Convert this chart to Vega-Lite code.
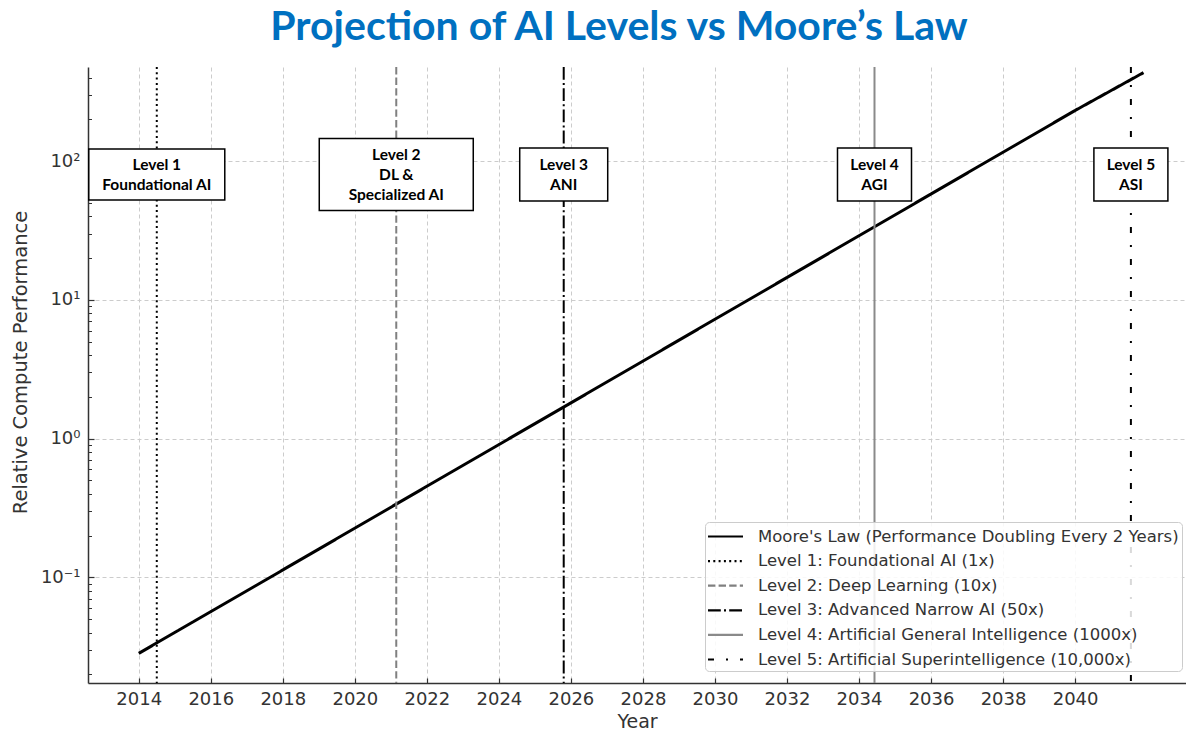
{
  "$schema": "https://vega.github.io/schema/vega-lite/v6.json",
  "width": 1098,
  "height": 616,
  "autosize": {"type": "none"},
  "padding": {"left": 88, "top": 67, "right": 0, "bottom": 49},
  "background": "white",
  "title": {
    "text": "Projection of AI Levels vs Moore’s Law",
    "font": "Lato",
    "fontSize": 41,
    "fontWeight": "bold",
    "color": "#0070C0",
    "anchor": "middle",
    "offset": 17,
    "dx": -18
  },
  "config": {"view": {"stroke": null}, "font": "DejaVu Sans"},
  "resolve": {"axis": {"y": "independent"}},
  "datasets": {
    "moore": [
      {"year": 2014, "value": 0.0283, "series": "Moore's Law (Performance Doubling Every 2 Years)"},
      {"year": 2016, "value": 0.0566, "series": "Moore's Law (Performance Doubling Every 2 Years)"},
      {"year": 2018, "value": 0.113, "series": "Moore's Law (Performance Doubling Every 2 Years)"},
      {"year": 2020, "value": 0.226, "series": "Moore's Law (Performance Doubling Every 2 Years)"},
      {"year": 2022, "value": 0.453, "series": "Moore's Law (Performance Doubling Every 2 Years)"},
      {"year": 2024, "value": 0.906, "series": "Moore's Law (Performance Doubling Every 2 Years)"},
      {"year": 2026, "value": 1.81, "series": "Moore's Law (Performance Doubling Every 2 Years)"},
      {"year": 2028, "value": 3.62, "series": "Moore's Law (Performance Doubling Every 2 Years)"},
      {"year": 2030, "value": 7.25, "series": "Moore's Law (Performance Doubling Every 2 Years)"},
      {"year": 2032, "value": 14.5, "series": "Moore's Law (Performance Doubling Every 2 Years)"},
      {"year": 2034, "value": 29.0, "series": "Moore's Law (Performance Doubling Every 2 Years)"},
      {"year": 2036, "value": 58.0, "series": "Moore's Law (Performance Doubling Every 2 Years)"},
      {"year": 2038, "value": 116, "series": "Moore's Law (Performance Doubling Every 2 Years)"},
      {"year": 2040, "value": 232, "series": "Moore's Law (Performance Doubling Every 2 Years)"},
      {"year": 2041.9, "value": 435, "series": "Moore's Law (Performance Doubling Every 2 Years)"}
    ],
    "levels": [
      {"year": 2014.5, "series": "Level 1: Foundational AI (1x)", "level": "L1", "label": "Level 1\nFoundational AI"},
      {"year": 2021.15, "series": "Level 2: Deep Learning (10x)", "level": "L2", "label": "Level 2\nDL &\nSpecialized AI"},
      {"year": 2025.8, "series": "Level 3: Advanced Narrow AI (50x)", "level": "L3", "label": "Level 3\nANI"},
      {"year": 2034.43, "series": "Level 4: Artificial General Intelligence (1000x)", "level": "L4", "label": "Level 4\nAGI"},
      {"year": 2041.55, "series": "Level 5: Artificial Superintelligence (10,000x)", "level": "L5", "label": "Level 5\nASI"}
    ]
  },
  "encoding": {
    "x": {
      "field": "year",
      "type": "quantitative",
      "scale": {"domain": [2012.59, 2043.08], "nice": false, "zero": false},
      "axis": {
        "title": "Year",
        "titleFont": "DejaVu Sans",
        "titleFontSize": 19,
        "titleFontWeight": "normal",
        "titleColor": "#333333",
        "titlePadding": 4,
        "values": [2014, 2016, 2018, 2020, 2022, 2024, 2026, 2028, 2030, 2032, 2034, 2036, 2038, 2040],
        "format": "d",
        "labelFont": "DejaVu Sans",
        "labelFontSize": 18,
        "labelColor": "#333333",
        "labelPadding": 12,
        "labelFlush": false,
        "labelOverlap": false,
        "domainColor": "#333333",
        "domainWidth": 1.5,
        "tickColor": "#333333",
        "tickSize": -5,
        "tickWidth": 1.2,
        "grid": true,
        "gridColor": "#cccccc",
        "gridDash": [4, 3],
        "gridWidth": 1
      }
    }
  },
  "layer": [
    {
      "data": {"name": "moore"},
      "mark": {"type": "line", "strokeWidth": 3},
      "encoding": {
        "y": {
          "field": "value",
          "type": "quantitative",
          "scale": {"type": "log", "domain": [0.0173, 477.5], "nice": false},
          "axis": {
            "orient": "left",
            "title": "Relative Compute Performance",
            "titleFont": "DejaVu Sans",
            "titleFontSize": 19.5,
            "titleFontWeight": "normal",
            "titleColor": "#333333",
            "titlePadding": 10,
            "titleY": 295,
            "values": [0.1, 1, 10, 100],
            "labelExpr": "datum.value == 100 ? '10²' : datum.value == 10 ? '10¹' : datum.value == 1 ? '10⁰' : '10⁻¹'",
            "labelFont": "DejaVu Sans",
            "labelFontSize": 18,
            "labelColor": "#333333",
            "labelPadding": 14,
            "labelFlush": false,
            "labelOverlap": false,
            "domainColor": "#333333",
            "domainWidth": 1.5,
            "tickColor": "#333333",
            "tickSize": -6,
            "tickWidth": 1.2,
            "grid": true,
            "gridColor": "#cccccc",
            "gridDash": [4, 3],
            "gridWidth": 1
          }
        },
        "color": {
          "field": "series",
          "type": "nominal",
          "scale": {
            "domain": ["Moore's Law (Performance Doubling Every 2 Years)", "Level 1: Foundational AI (1x)", "Level 2: Deep Learning (10x)", "Level 3: Advanced Narrow AI (50x)", "Level 4: Artificial General Intelligence (1000x)", "Level 5: Artificial Superintelligence (10,000x)"],
            "range": ["#000000", "#000000", "#808080", "#000000", "#8a8a8a", "#000000"]
          },
          "legend": {
            "title": null,
            "orient": "none",
            "legendX": 617,
            "legendY": 455,
            "symbolType": "M-1.15,0L2.35,0",
            "symbolSize": 400,
            "symbolStrokeWidth": 2.2,
            "labelFont": "DejaVu Sans",
            "labelFontSize": 16.5,
            "labelColor": "#333333",
            "labelLimit": 0,
            "labelOffset": 27,
            "rowPadding": 4.6,
            "padding": 3,
            "fillColor": "rgba(255,255,255,0.85)",
            "strokeColor": "#cccccc",
            "cornerRadius": 4
          }
        },
        "strokeDash": {
          "field": "series",
          "type": "nominal",
          "scale": {
            "domain": ["Moore's Law (Performance Doubling Every 2 Years)", "Level 1: Foundational AI (1x)", "Level 2: Deep Learning (10x)", "Level 3: Advanced Narrow AI (50x)", "Level 4: Artificial General Intelligence (1000x)", "Level 5: Artificial Superintelligence (10,000x)"],
            "range": [[1, 0], [2, 3.3], [7.4, 3.2], [12.8, 3.2, 2, 3.2], [1, 0], [6, 12, 2, 12]]
          },
          "legend": {
            "title": null,
            "orient": "none",
            "legendX": 617,
            "legendY": 455,
            "symbolType": "M-1.15,0L2.35,0",
            "symbolSize": 400,
            "symbolStrokeWidth": 2.2,
            "labelFont": "DejaVu Sans",
            "labelFontSize": 16.5,
            "labelColor": "#333333",
            "labelLimit": 0,
            "labelOffset": 27,
            "rowPadding": 4.6,
            "padding": 3,
            "fillColor": "rgba(255,255,255,0.85)",
            "strokeColor": "#cccccc",
            "cornerRadius": 4
          }
        }
      }
    },
    {
      "data": {"name": "levels"},
      "mark": {"type": "rule", "strokeWidth": 2},
      "encoding": {
        "color": {
          "field": "series",
          "type": "nominal",
          "scale": {
            "domain": ["Moore's Law (Performance Doubling Every 2 Years)", "Level 1: Foundational AI (1x)", "Level 2: Deep Learning (10x)", "Level 3: Advanced Narrow AI (50x)", "Level 4: Artificial General Intelligence (1000x)", "Level 5: Artificial Superintelligence (10,000x)"],
            "range": ["#000000", "#000000", "#808080", "#000000", "#8a8a8a", "#000000"]
          },
          "legend": {
            "title": null,
            "orient": "none",
            "legendX": 617,
            "legendY": 455,
            "symbolType": "M-1.15,0L2.35,0",
            "symbolSize": 400,
            "symbolStrokeWidth": 2.2,
            "labelFont": "DejaVu Sans",
            "labelFontSize": 16.5,
            "labelColor": "#333333",
            "labelLimit": 0,
            "labelOffset": 27,
            "rowPadding": 4.6,
            "padding": 3,
            "fillColor": "rgba(255,255,255,0.85)",
            "strokeColor": "#cccccc",
            "cornerRadius": 4
          }
        },
        "strokeDash": {
          "field": "series",
          "type": "nominal",
          "scale": {
            "domain": ["Moore's Law (Performance Doubling Every 2 Years)", "Level 1: Foundational AI (1x)", "Level 2: Deep Learning (10x)", "Level 3: Advanced Narrow AI (50x)", "Level 4: Artificial General Intelligence (1000x)", "Level 5: Artificial Superintelligence (10,000x)"],
            "range": [[1, 0], [2, 3.3], [7.4, 3.2], [12.8, 3.2, 2, 3.2], [1, 0], [6, 12, 2, 12]]
          },
          "legend": {
            "title": null,
            "orient": "none",
            "legendX": 617,
            "legendY": 455,
            "symbolType": "M-1.15,0L2.35,0",
            "symbolSize": 400,
            "symbolStrokeWidth": 2.2,
            "labelFont": "DejaVu Sans",
            "labelFontSize": 16.5,
            "labelColor": "#333333",
            "labelLimit": 0,
            "labelOffset": 27,
            "rowPadding": 4.6,
            "padding": 3,
            "fillColor": "rgba(255,255,255,0.85)",
            "strokeColor": "#cccccc",
            "cornerRadius": 4
          }
        }
      }
    },
    {
      "data": {"name": "levels"},
      "mark": {"type": "point", "filled": true, "fill": "white", "stroke": "black", "strokeWidth": 1.5, "size": 10000, "opacity": 1, "fillOpacity": 1, "strokeOpacity": 1},
      "encoding": {
        "y": {
          "datum": 80,
          "type": "quantitative",
          "axis": {
            "orient": "left",
            "title": null,
            "values": [0.02, 0.03, 0.04, 0.05, 0.06, 0.07, 0.08, 0.09, 0.2, 0.3, 0.4, 0.5, 0.6, 0.7, 0.8, 0.9, 2, 3, 4, 5, 6, 7, 8, 9, 20, 30, 40, 50, 60, 70, 80, 90, 200, 300, 400],
            "labels": false,
            "domain": false,
            "grid": false,
            "tickColor": "#333333",
            "tickSize": -3.5,
            "tickWidth": 1
          }
        },
        "shape": {
          "field": "level",
          "type": "nominal",
          "scale": {
            "domain": ["L1", "L2", "L3", "L4", "L5"],
            "range": [
              "M-1.36,-0.51L1.36,-0.51L1.36,0.51L-1.36,0.51Z",
              "M-1.54,-0.72L1.54,-0.72L1.54,0.72L-1.54,0.72Z",
              "M-0.88,-0.53L0.88,-0.53L0.88,0.53L-0.88,0.53Z",
              "M-0.74,-0.53L0.74,-0.53L0.74,0.53L-0.74,0.53Z",
              "M-0.74,-0.53L0.74,-0.53L0.74,0.53L-0.74,0.53Z"
            ]
          },
          "legend": null
        }
      }
    },
    {
      "data": {"name": "levels"},
      "transform": [{"filter": "datum.level != 'L2'"}],
      "mark": {"type": "text", "font": "Lato", "fontWeight": "bold", "fontSize": 15.5, "lineHeight": 20, "lineBreak": "\n", "align": "center", "baseline": "middle", "dy": -10, "color": "black"},
      "encoding": {
        "y": {"datum": 80, "type": "quantitative", "axis": null},
        "text": {"field": "label", "type": "nominal"}
      }
    },
    {
      "data": {"name": "levels"},
      "transform": [{"filter": "datum.level == 'L2'"}],
      "mark": {"type": "text", "font": "Lato", "fontWeight": "bold", "fontSize": 15.5, "lineHeight": 20, "lineBreak": "\n", "align": "center", "baseline": "middle", "dy": -20, "color": "black"},
      "encoding": {
        "y": {"datum": 80, "type": "quantitative", "axis": null},
        "text": {"field": "label", "type": "nominal"}
      }
    }
  ]
}
